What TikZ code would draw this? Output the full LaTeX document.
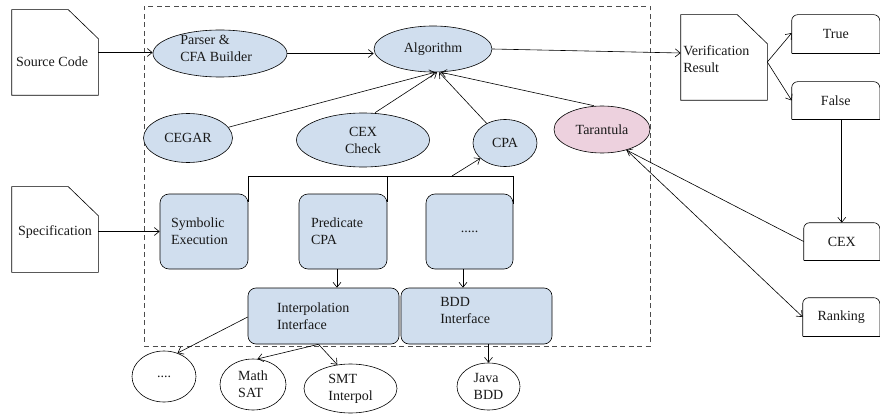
\documentclass[tikz,border=0pt]{standalone}
\usepackage{fontspec}
\setmainfont{Liberation Serif}
\usetikzlibrary{shapes.geometric,arrows.meta,calc}
\definecolor{boxblue}{RGB}{208,222,238}
\definecolor{tarpink}{RGB}{237,209,222}
\begin{document}
\begin{tikzpicture}[x=1pt,y=-1pt,line width=0.6pt,
  every node/.style={font=\fontsize{14}{17}\selectfont, inner sep=0pt, text=black!90},
  arr/.style={-{Straight Barb[length=5pt,width=8pt]}},
  ell/.style={ellipse, draw, fill=boxblue},
  well/.style={ellipse, draw, fill=white, align=left},
  rbox/.style={draw, fill=boxblue, rounded corners=9pt, align=left},
  doc/.style={minimum width=86pt, minimum height=85pt},
  frame/.style={draw=black!70, dashed, dash pattern=on 5pt off 3.5pt}]
\useasboundingbox (0,0) rectangle (880,414);

% dashed frame
\node[frame, minimum width=506pt, minimum height=340pt] (fr) at (397,176) {};

% document shapes
\node[doc] (src) at (55,52.5) {};
\draw (src.south west) -- (src.north west) -- ([xshift=-30pt]src.north east) -- ([yshift=-29pt]src.north east) -- (src.south east) -- cycle;
\node (srct) at (52,62) {Source Code};

\node[doc] (spec) at (55,229.5) {};
\draw (spec.south west) -- (spec.north west) -- ([xshift=-30pt]spec.north east) -- ([yshift=-29pt]spec.north east) -- (spec.south east) -- cycle;
\node (spect) at (55,232) {Specification};

\node[doc] (ver) at (724,57.5) {};
\draw (ver.south west) -- (ver.north west) -- ([xshift=-30pt]ver.north east) -- ([yshift=-29pt]ver.north east) -- (ver.south east) -- cycle;
\node[anchor=west, align=left] (vert) at (683,59.5) {Verification\\Result};

% ellipses
\node[ell, minimum width=134pt, minimum height=47pt] (parser) at (220,53.5) {};
\node[anchor=west, align=left] (parsert) at (180,48.5) {Parser \&\\CFA Builder};
\node[ell, minimum width=118pt, minimum height=46pt] (alg) at (433,49) {Algorithm};
\node[ell, minimum width=89pt, minimum height=49pt] (cegar) at (188,138) {CEGAR};
\node[ell, minimum width=133pt, minimum height=54pt, align=center] (cexc) at (363,140) {CEX\\Check};
\node[ell, minimum width=64pt, minimum height=47pt] (cpa) at (505,143) {CPA};
\node[ell, fill=tarpink, minimum width=96pt, minimum height=47pt] (tar) at (602,129.5) {Tarantula};

% rounded boxes
\node[rbox, inner xsep=11pt, text width=66pt, minimum height=75pt] (sym) at (204,231.5) {Symbolic\\Execution};
\node[rbox, inner xsep=12pt, text width=64pt, minimum height=75pt] (pred) at (343,231.5) {Predicate\\CPA};
\node[rbox, align=center, minimum width=87pt, minimum height=75pt] (dots) at (469.5,231.5) {.....};
\node[rbox, rounded corners=8pt, inner xsep=29pt, text width=93pt, minimum height=56pt] (interp) at (323.5,316) {Interpolation\\Interface};
\node[rbox, rounded corners=8pt, minimum width=151pt, minimum height=56pt] (bdd) at (476.5,316) {};
\node[anchor=west, align=left] (bddt) at (440,310) {BDD\\Interface};

% bottom ellipses
\node[well, minimum width=64pt, minimum height=51pt] (e1) at (164,376.5) {....};
\node[well, minimum width=66pt, minimum height=51pt] (e2) at (253,384.5) {Math\\SAT};
\node[well, minimum width=93pt, minimum height=49pt] (e3) at (350.5,388.5) {SMT\\Interpol};
\node[well, minimum width=63pt, minimum height=47pt] (jbdd) at (488.5,386.5) {Java\\BDD};

% right boxes
\node[minimum width=87.5pt, minimum height=38pt] (true) at (835.75,34) {True};
\node[minimum width=87.5pt, minimum height=37pt] (false) at (835.75,100.5) {False};
\node[minimum width=75.5pt, minimum height=37pt] (cex) at (841.75,241.5) {CEX};
\node[minimum width=76.5pt, minimum height=38pt] (rank) at (841.25,317) {Ranking};
\foreach \n in {true,false,cex,rank}{
  \draw[rounded corners=6pt] (\n.south west) -- (\n.north west) -- (\n.north east) -- (\n.south east);
  \draw (\n.south west) -- (\n.south east);
}

% connectors
\draw[arr] (src.east) -- (src.east -| parser.west);
\draw[arr] (spec.east |- sym.west) -- (sym.west);
\draw[arr] (parser.east) -- (parser.east -| alg.west);
\draw[arr] (alg.east) -- ([yshift=-4pt]alg.east -| ver.west);
\draw[arr] ([yshift=-4.5pt]ver.east) -- ([yshift=1pt]true.west);
\draw[arr] ([yshift=-4.5pt]ver.east) -- (false.west);
\draw[arr] (cex.north |- false.south) -- (cex.north);
\draw[arr] (cex.west) -- (tar.-40);
\draw[arr] (tar.-40) -- (rank.west);

\draw[arr] (cegar) -- ([xshift=2pt]alg.south);
\draw[arr] ([xshift=12pt]cexc.north) -- ([xshift=4pt]alg.south);
\draw[arr] (cpa) -- ([xshift=6pt]alg.south);
\draw[arr] ([xshift=-8pt]tar.north) -- ([xshift=8pt]alg.south);

% bus
\coordinate (bus) at (452,176);
\draw ([yshift=-8pt]sym.north east) |- (bus -| dots.north east) -- ([yshift=-10pt]dots.north east);
\draw (pred.north east |- bus) -- ([yshift=-8pt]pred.north east);
\draw[arr] (bus) -- (cpa);

\draw[arr] ([xshift=-6pt]pred.south) -- ([xshift=-6pt]pred.south |- interp.north);
\draw[arr] ([xshift=-6.5pt]dots.south) -- ([xshift=-6.5pt]dots.south |- bdd.north);

\draw[arr] ([yshift=-1pt]interp.west) -- (e1.60);
\draw[arr] ([xshift=-5pt]interp.south) -- (e2.80);
\draw[arr] ([xshift=-5pt]interp.south) -- (e3.119);
\draw[arr] (jbdd.north |- bdd.south) -- (jbdd.north);
\end{tikzpicture}
\end{document}
